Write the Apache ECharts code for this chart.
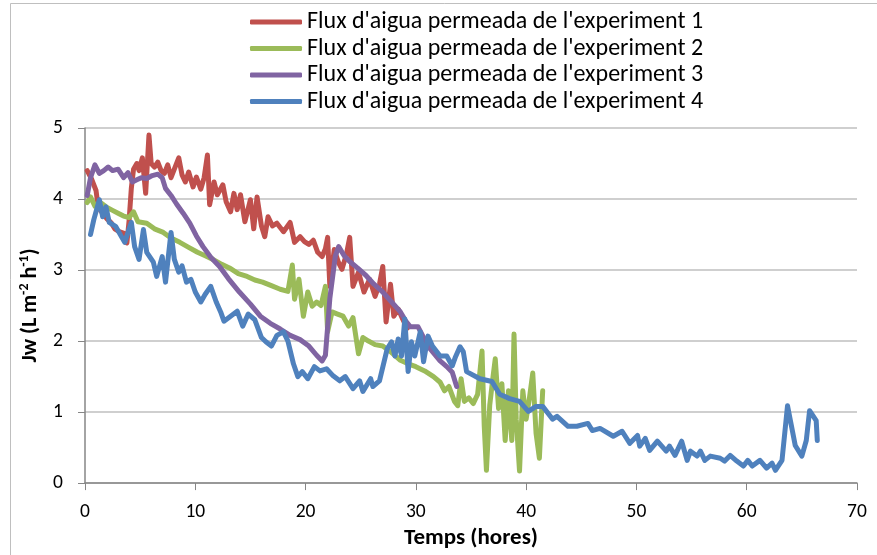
<!DOCTYPE html>
<html><head><meta charset="utf-8">
<script src="https://cdn.jsdelivr.net/npm/echarts@6/dist/echarts.min.js"></script>
<style>html,body{margin:0;padding:0;background:#fff}#c{width:877px;height:555px}</style>
</head><body><div id="c"></div>
<script>
const seriesNames = ["Flux d'aigua permeada de l'experiment 1","Flux d'aigua permeada de l'experiment 2","Flux d'aigua permeada de l'experiment 3","Flux d'aigua permeada de l'experiment 4"];
const xTicks = [0,10,20,30,40,50,60,70];
const yTicks = [0,1,2,3,4,5];

const t1 = [0.2,0.6,1.0,1.2,1.6,2.0,2.4,2.7,3.1,3.5,3.8,4.0,4.2,4.4,4.7,4.9,5.2,5.5,5.8,6.0,6.3,6.6,6.9,7.2,7.5,7.8,8.1,8.5,8.8,9.1,9.4,9.8,10.1,10.5,10.8,11.1,11.3,11.7,12.0,12.5,12.8,13.2,13.5,13.8,14.1,14.5,15.0,15.3,15.6,16.0,16.3,16.6,17.0,17.4,18.0,18.6,19.0,19.5,19.9,20.3,20.7,21.1,21.5,21.8,22.0,22.2,22.6,23.0,23.3,23.7,24.0,24.3,24.8,25.3,25.8,26.3,26.7,27.0,27.3,27.7,28.0,28.4,28.8,29.2];
const jw1 = [4.40,4.28,4.12,3.88,3.80,3.72,3.66,3.58,3.54,3.52,3.38,3.70,4.15,4.42,4.50,4.40,4.58,4.08,4.90,4.50,4.45,4.52,4.40,4.36,4.48,4.30,4.42,4.58,4.34,4.24,4.38,4.17,4.31,4.14,4.30,4.62,3.92,4.24,4.06,4.20,3.96,3.82,4.08,3.85,4.06,3.68,3.99,3.58,4.03,3.62,3.47,3.75,3.62,3.66,3.54,3.67,3.39,3.47,3.40,3.36,3.42,3.25,3.19,3.30,3.46,2.77,3.29,3.10,3.01,3.22,3.46,2.77,2.97,2.69,2.87,2.63,2.80,3.05,2.27,2.80,2.35,2.45,2.31,2.18];

const t2 = [0.2,0.5,0.9,1.4,2.0,2.5,3.0,3.5,4.0,4.4,4.8,5.6,6.3,7.1,7.8,8.6,9.4,10.2,10.9,11.6,12.4,13.1,13.9,14.7,15.4,16.1,16.9,17.7,18.4,18.8,19.0,19.4,19.8,20.2,20.6,21.0,21.4,21.8,22.0,22.4,22.9,23.4,23.9,24.3,24.8,25.2,25.7,26.3,27.0,27.7,28.6,29.3,30.0,30.8,31.6,32.2,32.6,33.0,33.5,33.8,34.1,34.4,34.8,35.2,35.6,36.0,36.2,36.4,36.7,37.0,37.2,37.5,37.8,38.1,38.4,38.7,38.9,39.1,39.4,39.7,40.0,40.3,40.6,40.9,41.2,41.5];
const jw2 = [3.95,4.03,3.90,3.95,3.88,3.84,3.80,3.76,3.74,3.82,3.68,3.66,3.58,3.53,3.45,3.39,3.32,3.25,3.20,3.15,3.08,3.03,2.95,2.91,2.86,2.83,2.78,2.73,2.70,3.07,2.59,2.87,2.35,2.69,2.49,2.55,2.50,2.77,2.13,2.41,2.38,2.35,2.21,2.33,1.82,2.05,2.00,1.95,1.93,1.85,1.73,1.68,1.64,1.58,1.50,1.42,1.30,1.36,1.15,1.09,1.47,1.15,1.20,1.12,1.25,1.86,0.80,0.18,1.10,1.50,1.75,1.05,1.40,0.60,1.30,0.60,2.10,0.90,0.17,1.30,0.90,1.20,1.55,0.70,0.35,1.30];

const t3 = [0.2,0.5,0.9,1.3,1.7,2.1,2.5,3.0,3.5,3.9,4.3,4.7,5.1,5.6,6.1,6.6,7.0,7.3,7.8,8.3,8.9,9.5,10.1,10.7,11.4,12.2,13.0,14.0,15.0,15.9,16.8,17.7,18.6,19.5,20.3,21.0,21.5,21.8,22.2,22.7,23.0,23.5,24.0,24.7,25.5,26.2,27.0,27.8,28.6,29.1,29.5,30.2,30.8,31.3,32.2,32.8,33.3,33.7];
const jw3 = [4.05,4.30,4.48,4.36,4.40,4.45,4.40,4.42,4.30,4.37,4.24,4.27,4.30,4.29,4.33,4.35,4.30,4.15,4.05,3.93,3.80,3.66,3.48,3.33,3.18,3.05,2.88,2.69,2.52,2.35,2.25,2.17,2.08,2.02,1.93,1.80,1.72,1.80,2.60,3.20,3.33,3.20,3.12,3.03,2.92,2.80,2.69,2.55,2.41,2.28,2.20,2.20,2.02,1.89,1.72,1.64,1.56,1.36];

const t4 = [0.5,0.8,1.3,1.6,1.9,2.2,2.8,3.3,3.6,3.9,4.2,4.5,4.9,5.3,5.6,6.2,6.5,7.0,7.3,7.8,8.1,8.5,8.8,9.2,9.6,10.0,10.5,10.9,11.4,11.9,12.3,12.6,13.2,13.8,14.3,14.8,15.4,16.0,16.4,16.9,17.4,18.0,18.4,18.9,19.3,19.7,20.2,20.8,21.3,21.9,22.5,23.1,23.6,24.3,24.9,25.2,25.9,26.1,26.7,27.4,27.8,28.1,28.4,28.7,29.0,29.3,29.6,29.9,30.4,30.7,31.1,31.5,32.2,32.8,33.3,33.6,34.0,34.3,34.6,35.8,36.9,37.6,38.5,39.4,40.2,40.9,41.5,42.0,42.4,42.8,43.3,43.8,44.6,45.6,46.0,46.7,47.9,48.7,49.4,50.1,50.3,50.8,51.2,51.9,52.7,53.0,53.5,54.1,54.6,54.9,55.5,55.8,56.2,56.7,57.6,58.0,58.5,59.1,59.7,60.1,60.5,61.2,61.8,62.3,62.6,63.2,63.7,64.0,64.4,65.0,65.4,65.7,66.0,66.3,66.4];
const jw4 = [3.50,3.71,3.99,3.75,3.89,3.67,3.61,3.47,3.39,3.53,3.67,3.33,3.15,3.57,3.25,3.11,2.91,3.19,2.83,3.53,3.15,2.97,3.06,2.83,2.87,2.69,2.55,2.66,2.77,2.55,2.41,2.28,2.35,2.42,2.21,2.38,2.30,2.05,1.99,1.93,2.08,2.13,2.00,1.68,1.50,1.57,1.47,1.64,1.58,1.61,1.51,1.44,1.50,1.33,1.44,1.29,1.47,1.36,1.44,1.89,1.99,1.79,2.03,1.79,2.31,1.57,1.99,1.79,2.13,1.71,2.07,1.93,1.79,1.79,1.65,1.78,1.92,1.85,1.57,1.47,1.43,1.25,1.19,1.15,1.01,1.08,1.08,0.98,0.90,0.94,0.87,0.80,0.80,0.84,0.74,0.77,0.66,0.73,0.56,0.67,0.52,0.63,0.46,0.59,0.45,0.52,0.39,0.59,0.32,0.45,0.38,0.45,0.32,0.38,0.35,0.31,0.39,0.31,0.24,0.32,0.24,0.32,0.21,0.28,0.18,0.32,1.09,0.85,0.53,0.38,0.60,1.02,0.95,0.88,0.60];

const colors = ['#C0504D','#9BBB59','#8064A2','#4F81BD'];
const FONT = 'Carlito, Lato, "Open Sans", sans-serif';

function pairs(t, v){ return t.map((x,i)=>[x, v[i]]); }
const times = [t1,t2,t3,t4];
const vals = [jw1,jw2,jw3,jw4];

const chart = echarts.init(document.getElementById('c'), null, {renderer:'canvas'});
chart.setOption({
  animation:false,
  color: colors,
  graphic:[{type:'rect', shape:{x:10.5,y:3.5,width:900,height:600}, style:{fill:'none', stroke:'#BFBFBF', lineWidth:1}, silent:true, z:-1}],
  legend:{
    orient:'vertical', left:245, top:5, itemWidth:52, itemHeight:5, itemGap:2.5,
    icon:'roundRect',
    textStyle:{fontFamily:FONT, fontSize:24, lineHeight:24, color:'#000'},
    data: seriesNames
  },
  grid:{left:85, right:20, top:128, bottom:70, containLabel:false},
  xAxis:{
    type:'value', min:0, max:70, interval:10,
    name:'Temps (hores)', nameLocation:'middle', nameGap:42,
    nameTextStyle:{fontFamily:FONT, fontSize:23, fontWeight:'bold', color:'#000'},
    axisLine:{show:true, onZero:false, lineStyle:{color:'#868686', width:1.5}},
    axisTick:{show:true, length:7, inside:false, lineStyle:{color:'#868686'}},
    axisLabel:{fontFamily:FONT, fontSize:19.5, color:'#000', margin:19, formatter:v=>xTicks.includes(v)?String(v):''},
    splitLine:{show:false}
  },
  yAxis:{
    type:'value', min:0, max:5, interval:1,
    name:'{b|Jw (L m}{s|-2}{b| h}{s|-1}{b|)}', nameLocation:'middle', nameGap:44, nameRotate:90,
    nameTextStyle:{rich:{
      b:{fontFamily:FONT, fontSize:22, fontWeight:'bold', color:'#000', lineHeight:24, verticalAlign:'bottom'},
      s:{fontFamily:FONT, fontSize:14, fontWeight:'bold', color:'#000', lineHeight:24, verticalAlign:'top'}
    }},
    axisLine:{show:true, lineStyle:{color:'#868686', width:1.5}},
    axisTick:{show:true, length:7, inside:false, lineStyle:{color:'#868686'}},
    axisLabel:{fontFamily:FONT, fontSize:19.5, color:'#000', margin:22, formatter:v=>yTicks.includes(v)?String(v):''},
    splitLine:{show:true, lineStyle:{color:'#BFBFBF', width:1.5}}
  },
  series: seriesNames.map((n,i)=>({
    name:n, type:'line', data:pairs(times[i], vals[i]), showSymbol:false, symbol:'none',
    lineStyle:{width:5, color:colors[i], cap:'round', join:'round'},
    itemStyle:{color:colors[i]}, z:2+i
  }))
});
</script></body></html>
